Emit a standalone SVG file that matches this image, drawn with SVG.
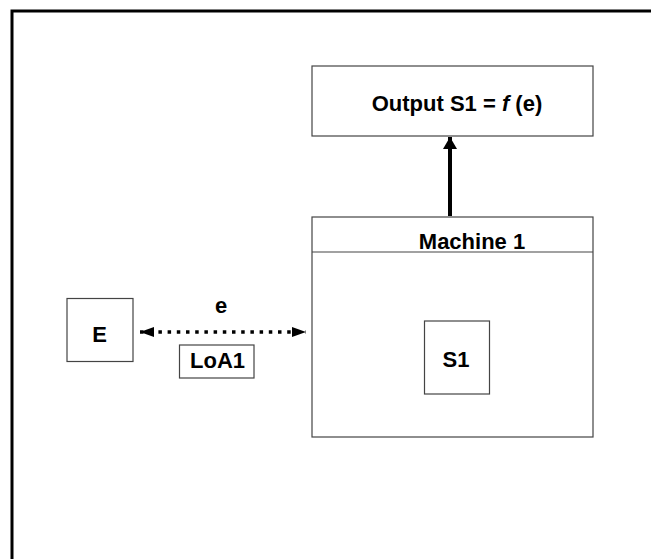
<svg xmlns="http://www.w3.org/2000/svg" width="651" height="559" viewBox="0 0 651 559">
<style>
.box{fill:#fff;stroke:#444;stroke-width:1.2}
.t{font-family:"Liberation Sans",Arial,sans-serif;font-weight:bold;font-size:22px;fill:#000;text-anchor:middle}
</style>
<defs>
<marker id="ah" viewBox="0 0 14 10" refX="14" refY="5" markerWidth="14" markerHeight="10" markerUnits="userSpaceOnUse" orient="auto-start-reverse">
<path d="M0,0 L14,5 L0,10 Z" fill="#000"/>
</marker>
<marker id="ahBig" viewBox="0 0 12 14" refX="12" refY="7" markerWidth="12" markerHeight="14" markerUnits="userSpaceOnUse" orient="auto">
<path d="M0,0 L12,7 L0,14 Z" fill="#000"/>
</marker>
</defs>
<rect width="651" height="559" fill="#fff"/>
<g id="frame"><path d="M12,570 L12,11 L660,11" fill="none" stroke="#000" stroke-width="3"/></g>
<g id="output"><rect class="box" x="312" y="66" width="281" height="70"/><text class="t" x="457" y="111">Output S1 = <tspan font-style="italic">f</tspan> (e)</text></g>
<g id="machine1"><rect class="box" x="312" y="217" width="281" height="220"/><line x1="312" y1="252" x2="593" y2="252" stroke="#444" stroke-width="1.2"/><text class="t" x="472" y="249">Machine 1</text></g>
<g id="s1"><rect class="box" x="424.5" y="321" width="65" height="73"/><text class="t" x="456" y="367">S1</text></g>
<g id="E"><rect class="box" x="67" y="298.5" width="66" height="63"/><text class="t" x="99.5" y="342">E</text></g>
<g id="loa1"><rect class="box" x="179.5" y="345" width="74.5" height="33"/><text class="t" x="217.5" y="368">LoA1</text></g>
<g id="connectors">
<line x1="450" y1="216" x2="450" y2="137" stroke="#000" stroke-width="4" marker-end="url(#ahBig)"/>
<line x1="140" y1="332" x2="306" y2="332" stroke="#000" stroke-width="3.5" stroke-dasharray="3.5,5.7" marker-start="url(#ah)" marker-end="url(#ah)"/>
<text class="t" x="221" y="313">e</text>
</g>
</svg>
